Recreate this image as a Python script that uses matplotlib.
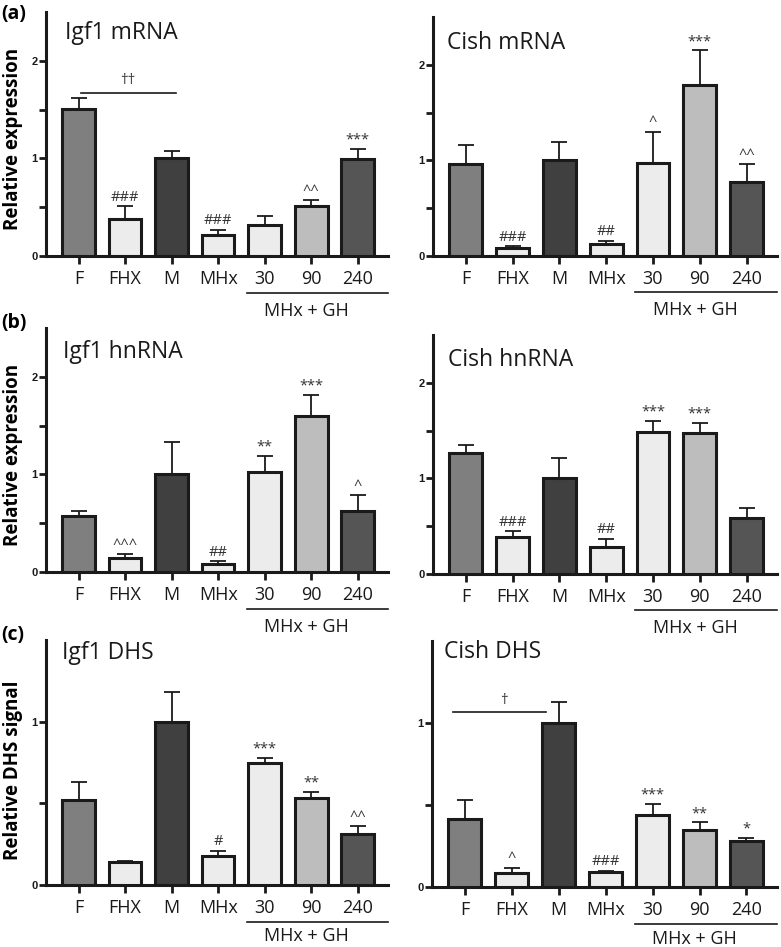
import matplotlib
matplotlib.use("Agg")
import matplotlib.pyplot as plt
from matplotlib.ticker import FixedLocator

plt.rcParams['font.family'] = ['Open Sans', 'DejaVu Sans']

# categories
groups = ["F", "FHX", "M", "MHx", "30", "90", "240"]
bar_colors = ["#7f7f7f", "#ececec", "#404040", "#ececec", "#ececec", "#bdbdbd", "#555555"]

# values (mean, upper SEM)
igf1_mrna = [1.51, 0.38, 1.00, 0.22, 0.32, 0.51, 0.99]
igf1_mrna_err = [0.11, 0.13, 0.08, 0.05, 0.09, 0.06, 0.11]
igf1_mrna_sig = ["", "###", "", "###", "", "^^", "***"]

cish_mrna = [0.96, 0.08, 1.00, 0.13, 0.97, 1.79, 0.77]
cish_mrna_err = [0.20, 0.02, 0.19, 0.03, 0.33, 0.36, 0.19]
cish_mrna_sig = ["", "###", "", "##", "^", "***", "^^"]

igf1_hnrna = [0.57, 0.14, 1.00, 0.085, 1.02, 1.60, 0.62]
igf1_hnrna_err = [0.05, 0.04, 0.33, 0.025, 0.17, 0.21, 0.17]
igf1_hnrna_sig = ["", "^^^", "", "##", "**", "***", "^"]

cish_hnrna = [1.27, 0.39, 1.00, 0.28, 1.49, 1.47, 0.59]
cish_hnrna_err = [0.08, 0.06, 0.21, 0.09, 0.11, 0.11, 0.10]
cish_hnrna_sig = ["", "###", "", "##", "***", "***", ""]

igf1_dhs = [0.52, 0.14, 1.00, 0.175, 0.745, 0.53, 0.31]
igf1_dhs_err = [0.11, 0.01, 0.18, 0.035, 0.035, 0.04, 0.05]
igf1_dhs_sig = ["", "", "", "#", "***", "**", "^^"]

cish_dhs = [0.415, 0.085, 1.00, 0.09, 0.44, 0.345, 0.28]
cish_dhs_err = [0.115, 0.033, 0.13, 0.01, 0.066, 0.049, 0.02]
cish_dhs_sig = ["", "^", "", "###", "***", "**", "*"]

W, H = 781, 947
fig = plt.figure(figsize=(W / 100, H / 100), dpi=100)


def px_axes(x0, x1, ytop, yzero):
    return fig.add_axes([x0 / W, 1 - yzero / H, (x1 - x0) / W, (yzero - ytop) / H])


def panel(ax, title, vals, errs, sig, ymax, title_xy, ylabel=None, ylab_y=0.48, grp_y=-0.225):
    x = list(range(len(groups)))
    ax.bar(x, vals, width=0.7, color=bar_colors, edgecolor="#1a1a1a", linewidth=2.2, zorder=3)
    ax.errorbar(x, vals, yerr=[[0] * len(vals), errs], fmt="none", ecolor="#1a1a1a",
                elinewidth=1.3, capsize=6, capthick=1.3, zorder=2)
    for i in x:
        if sig[i]:
            ax.annotate(sig[i], (i, vals[i] + errs[i]), xytext=(0, 1), textcoords="offset points",
                        ha="center", va="bottom", fontsize=10.5, color="#333333")
    ax.set_xlim(-0.7, 6.65)
    ax.set_ylim(0, ymax)
    for s in ["top", "right"]:
        ax.spines[s].set_visible(False)
    for s in ["left", "bottom"]:
        ax.spines[s].set_linewidth(2.2)
        ax.spines[s].set_color("#1a1a1a")
    ax.set_xticks(x)
    ax.set_xticklabels(groups, fontsize=13)
    major = [v for v in [0, 1, 2] if v <= ymax]
    ax.set_yticks(major)
    ax.set_yticklabels([str(v) for v in major], fontsize=8, fontweight="bold",
                       family=["Liberation Sans Narrow", "Liberation Sans"])
    ax.yaxis.set_minor_locator(FixedLocator([v for v in [0.5, 1.5] if v < ymax]))
    ax.tick_params(axis="x", length=6, width=2, pad=4, colors="#1a1a1a")
    ax.tick_params(axis="y", which="both", length=5, width=2, pad=1, colors="#1a1a1a")
    ax.text(title_xy[0], title_xy[1], title, transform=ax.transAxes, fontsize=16.5,
            ha="left", va="center", color="#1a1a1a")
    if ylabel:
        ax.set_ylabel(ylabel, fontsize=13.5, fontweight="bold")
        ax.yaxis.set_label_coords(-0.067, ylab_y)
    # group underline + label
    tr = ax.get_xaxis_transform()
    ax.plot([3.62, 6.65], [-0.152, -0.152], transform=tr, color="#1a1a1a", lw=1.2, clip_on=False)
    ax.text(4.9, grp_y, "MHx + GH", transform=tr, ha="center", va="center", fontsize=13,
            color="#1a1a1a")


ax1 = px_axes(46, 388, 12, 256)
panel(ax1, "Igf1 mRNA", igf1_mrna, igf1_mrna_err, igf1_mrna_sig, 2.5, (0.056, 0.914),
      "Relative expression")
ax1.plot([0.06, 2.1], [1.675, 1.675], color="#1a1a1a", lw=1.2)
ax1.text(1.05, 1.72, "††", ha="center", va="bottom", fontsize=11, color="#333333")

ax2 = px_axes(433, 777, 17, 256)
panel(ax2, "Cish mRNA", cish_mrna, cish_mrna_err, cish_mrna_sig, 2.5, (0.04, 0.89))

ax3 = px_axes(46, 388, 328, 572)
panel(ax3, "Igf1 hnRNA", igf1_hnrna, igf1_hnrna_err, igf1_hnrna_sig, 2.5, (0.05, 0.90),
      "Relative expression")

ax4 = px_axes(433, 777, 335, 574)
panel(ax4, "Cish hnRNA", cish_hnrna, cish_hnrna_err, cish_hnrna_sig, 2.5, (0.044, 0.895))

ax5 = px_axes(46, 388, 640, 885)
panel(ax5, "Igf1 DHS", igf1_dhs, igf1_dhs_err, igf1_dhs_sig, 1.5, (0.047, 0.947),
      "Relative DHS signal", ylab_y=0.47, grp_y=-0.21)

ax6 = px_axes(432, 777, 641, 887)
panel(ax6, "Cish DHS", cish_dhs, cish_dhs_err, cish_dhs_sig, 1.5, (0.035, 0.955), grp_y=-0.21)
ax6.plot([-0.26, 1.72], [1.065, 1.065], color="#1a1a1a", lw=1.2)
ax6.text(0.84, 1.09, "†", ha="center", va="bottom", fontsize=11, color="#333333")

for lab, ypx in [("(a)", 14), ("(b)", 323), ("(c)", 635)]:
    fig.text(1 / W, 1 - ypx / H, lab, fontsize=14, fontweight="bold", ha="left", va="center")

fig.savefig("out.png", dpi=100)
